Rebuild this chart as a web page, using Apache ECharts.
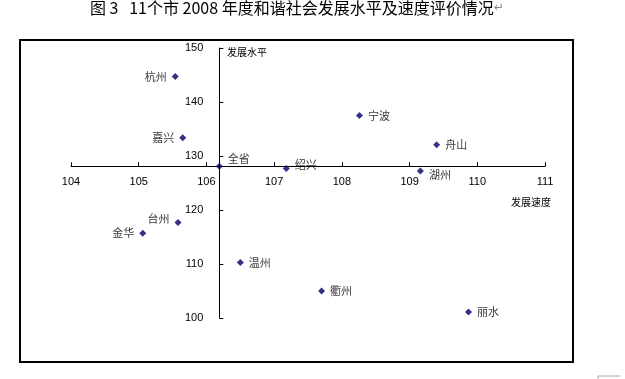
<!DOCTYPE html>
<html>
<head>
<meta charset="utf-8">
<script src="https://cdn.jsdelivr.net/npm/echarts@6/dist/echarts.min.js"></script>
<style>html,body{margin:0;padding:0;background:#fff;}#c{width:625px;height:379px;}</style>
</head>
<body>
<div id="c"></div>
<script>
// ---- data ----
const cities = ['杭州','嘉兴','全省','绍兴','宁波','舟山','湖州','台州','金华','温州','衢州','丽水'];
const speed  = [105.54,105.65,106.19,107.18,108.26,109.40,109.16,105.58,105.06,106.50,107.70,109.87];
const level  = [144.7,133.4,128.1,127.7,137.5,132.1,127.2,117.7,115.7,110.3,105.0,101.1];
const xTicks = [104,105,106,107,108,109,110,111];
const yTicks = [100,110,120,130,140,150];
const titleText = '图 3   11个市 2008 年度和谐社会发展水平及速度评价情况';
const xName = '发展速度';
const yName = '发展水平';

// ---- label placement (style) ----
const labelPos = {
  '杭州':['left',[0,0]], '嘉兴':['left',[0,0]], '全省':['right',[0,-7]], '绍兴':['right',[0,-4]],
  '宁波':['right',[0,0]], '舟山':['right',[0,0]], '湖州':['right',[0,4]], '台州':['left',[0,-4]],
  '金华':['left',[0,0]], '温州':['right',[0,0]], '衢州':['right',[0,0]], '丽水':['right',[0,0]]
};

const xMin = xTicks[0], xMax = xTicks[xTicks.length-1];
const yMin = yTicks[0], yMax = yTicks[yTicks.length-1];
const crossIdx = cities.indexOf('全省');
const gridLeft = 71, gridTop = 48, gridW = 474, gridH = 270;
const xAxisOffset = -gridH * (level[crossIdx] - yMin) / (yMax - yMin);
const yAxisOffset = -gridW * (speed[crossIdx] - xMin) / (xMax - xMin);

const font = '"Noto Sans CJK SC", sans-serif';

const data = cities.map((c,i) => ({
  name: c,
  value: [speed[i], level[i]],
  label: { position: labelPos[c][0], offset: labelPos[c][1] }
}));

const chart = echarts.init(document.getElementById('c'), null, {renderer:'canvas'});
chart.setOption({
  animation: false,
  backgroundColor: '#fff',
  grid: { left: gridLeft, top: gridTop, width: gridW, height: gridH, containLabel: false },
  xAxis: {
    type: 'value', min: xMin, max: xMax, interval: 1, offset: xAxisOffset,
    axisLine: { onZero: false, lineStyle: { color: '#000', width: 1 } },
    axisTick: { inside: true, length: 4, lineStyle: { color: '#000' } },
    axisLabel: { color: '#000', fontSize: 11, margin: 10, fontFamily: 'Liberation Sans' },
    splitLine: { show: false }
  },
  yAxis: {
    type: 'value', min: yMin, max: yMax, interval: 10, offset: yAxisOffset,
    axisLine: { onZero: false, lineStyle: { color: '#000', width: 1 } },
    axisTick: { inside: true, length: 4, lineStyle: { color: '#000' } },
    axisLabel: { color: '#000', fontSize: 11, margin: 16, fontFamily: 'Liberation Sans' },
    splitLine: { show: false }
  },
  series: [{
    type: 'scatter',
    symbol: 'diamond',
    symbolSize: 7,
    itemStyle: { color: '#000066' },
    label: { show: true, formatter: '{b}', color: '#000', fontSize: 11, distance: 5, fontFamily: font },
    data: data
  }],
  graphic: [
    { type: 'rect', shape: { x: 20, y: 40, width: 553, height: 322 }, style: { fill: null, stroke: '#000', lineWidth: 2 }, silent: true },
    { type: 'text', left: 90, top: 0, style: {
        text: '{t|' + titleText + '}{m|↵}',
        rich: { t: { fontSize: 16, fill: '#000', fontFamily: font }, m: { fontSize: 12, fill: '#888', fontFamily: 'DejaVu Sans' } }
    } },
    { type: 'text', x: 227, y: 47, style: { text: yName, fontSize: 10, fill: '#000', fontFamily: font } },
    { type: 'text', x: 511, y: 197, style: { text: xName, fontSize: 10, fill: '#000', fontFamily: font, letterSpacing: 1 } },
    { type: 'polyline', shape: { points: [[598,379],[598,376],[620,376]] }, style: { stroke: '#aaa', lineWidth: 1, fill: null } }
  ]
});
</script>
</body>
</html>
